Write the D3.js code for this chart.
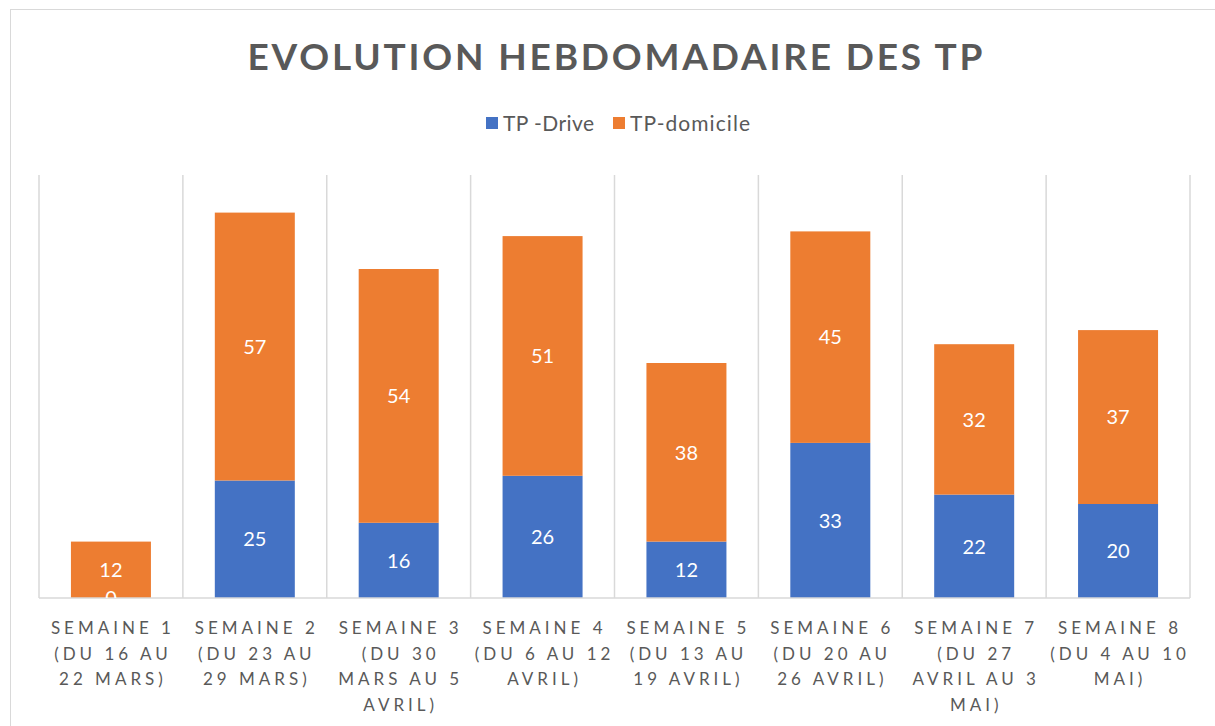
<!DOCTYPE html>
<html>
<head>
<meta charset="utf-8">
<script src="https://cdn.jsdelivr.net/npm/d3@7"></script>
<style>
  body { margin: 0; background: #fff; }
  text { font-family: Lato, "Open Sans", sans-serif; }
</style>
</head>
<body>
<svg id="chart" width="1215" height="726"></svg>
<script>
var categories = [
  "SEMAINE 1|(DU 16 AU|22 MARS)",
  "SEMAINE 2|(DU 23 AU|29 MARS)",
  "SEMAINE 3|(DU 30|MARS AU 5|AVRIL)",
  "SEMAINE 4|(DU 6 AU 12|AVRIL)",
  "SEMAINE 5|(DU 13 AU|19 AVRIL)",
  "SEMAINE 6|(DU 20 AU|26 AVRIL)",
  "SEMAINE 7|(DU 27|AVRIL AU 3|MAI)",
  "SEMAINE 8|(DU 4 AU 10|MAI)"
];
var seriesNames = ["TP -Drive", "TP-domicile"];
var drive = [0, 25, 16, 26, 12, 33, 22, 20];
var domicile = [12, 57, 54, 51, 38, 45, 32, 37];
var colors = ["#4472c4", "#ed7d31"];

var svg = d3.select('#chart');
var margin = { left: 39, right: 25, top: 175, bottom: 128 };

// chart frame
svg.append('rect')
  .attr('x', 10.5).attr('y', 9.5)
  .attr('width', 1220).attr('height', 730)
  .attr('fill', 'none').attr('stroke', '#d9d9d9').attr('stroke-width', 1);

var x = d3.scaleBand()
  .domain(categories)
  .range([margin.left, 1190])
  .paddingInner(0).paddingOuter(0);

var y = d3.scaleLinear()
  .domain([0, 90])
  .range([598, margin.top]);

// vertical gridlines between categories
var gridX = categories.map(function(c){ return x(c); }).concat([x.range()[1]]);
svg.append('g').selectAll('line').data(gridX).enter().append('line')
  .attr('x1', function(d){ return d; }).attr('x2', function(d){ return d; })
  .attr('y1', y(90)).attr('y2', y(0))
  .attr('stroke', '#d9d9d9').attr('stroke-width', 1.5);

var stackData = categories.map(function(c, i){
  return { cat: c, drive: drive[i], domicile: domicile[i] };
});
var stack = d3.stack().keys(['drive', 'domicile']);
var layers = stack(stackData);

var barW = 80;
svg.append('clipPath').attr('id', 'plotclip')
  .append('rect').attr('x', margin.left).attr('y', y(90))
  .attr('width', x.range()[1] - margin.left).attr('height', y(0) - y(90));

var g = svg.append('g');
layers.forEach(function(layer, li){
  g.selectAll('rect.s' + li).data(layer).enter().append('rect')
    .attr('class', 's' + li)
    .attr('x', function(d){ return x(d.data.cat) + x.bandwidth() / 2 - barW / 2; })
    .attr('width', barW)
    .attr('y', function(d){ return y(d[1]); })
    .attr('height', function(d){ return y(d[0]) - y(d[1]); })
    .attr('fill', colors[li]);
});

// baseline
svg.append('line')
  .attr('x1', margin.left).attr('x2', x.range()[1])
  .attr('y1', y(0)).attr('y2', y(0))
  .attr('stroke', '#d9d9d9').attr('stroke-width', 1.5);

// data labels
var lg = svg.append('g').attr('clip-path', 'url(#plotclip)');
layers.forEach(function(layer, li){
  lg.selectAll('text.l' + li).data(layer).enter().append('text')
    .attr('x', function(d){ return x(d.data.cat) + x.bandwidth() / 2; })
    .attr('y', function(d){ return (y(d[0]) + y(d[1])) / 2; })
    .attr('dy', '0.36em')
    .attr('text-anchor', 'middle')
    .attr('fill', '#fff')
    .style('font-size', '20px')
    .text(function(d){ return d[1] - d[0]; });
});

// category labels
var cg = svg.append('g');
categories.forEach(function(c){
  var lines = c.split('|');
  var t = cg.append('text')
    .attr('text-anchor', 'middle')
    .attr('fill', '#595959')
    .style('font-size', '17px')
    .style('letter-spacing', '4px');
  lines.forEach(function(ln, k){
    t.append('tspan')
      .attr('x', x(c) + x.bandwidth() / 2 + 2)
      .attr('y', 634 + k * 25.7)
      .text(ln);
  });
});

// title
svg.append('text')
  .attr('x', 615).attr('y', 70)
  .attr('text-anchor', 'middle')
  .attr('fill', '#595959')
  .style('font-size', '37px')
  .style('font-weight', 'bold')
  .attr('textLength', 735)
  .attr('lengthAdjust', 'spacing')
  .text('EVOLUTION HEBDOMADAIRE DES TP');

// legend
var legendPos = [486, 613];
var legendW = [91, 120];
seriesNames.forEach(function(n, i){
  svg.append('rect')
    .attr('x', legendPos[i]).attr('y', 117)
    .attr('width', 12).attr('height', 12)
    .attr('fill', colors[i]);
  svg.append('text')
    .attr('x', legendPos[i] + 17).attr('y', 131)
    .attr('fill', '#595959')
    .style('font-size', '21px')
    .attr('textLength', legendW[i])
    .attr('lengthAdjust', 'spacing')
    .text(n);
});
</script>
</body>
</html>
